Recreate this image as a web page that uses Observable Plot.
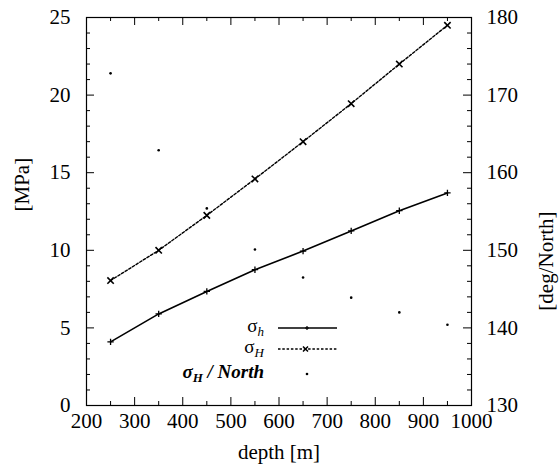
<!DOCTYPE html>
<html>
<head>
<meta charset="utf-8">
<script src="https://cdn.jsdelivr.net/npm/d3@7"></script>
<script src="https://cdn.jsdelivr.net/npm/@observablehq/plot@0.6"></script>
<style>
  body { margin: 0; background: white; }
  #wrap { position: relative; width: 559px; height: 472px; color: black; }
  .lg { position: absolute; font-size: 19px; line-height: 14px; height: 14px; text-align: right; width: 200px; white-space: nowrap; }
  .lg sub { font-size: 13px; font-style: italic; vertical-align: -4px; line-height: 0; }
  .sample { position: absolute; overflow: visible; }
</style>
</head>
<body>
<div id="wrap" style="font-family:'Liberation Serif', serif"></div>
<script>
// ---- data ----
const depth = [250, 350, 450, 550, 650, 750, 850, 950];
const sigmaHmin = [4.1, 5.9, 7.35, 8.75, 9.95, 11.25, 12.55, 13.7];     // σh [MPa]
const sigmaHmax = [8.05, 10.0, 12.25, 14.6, 17.0, 19.45, 22.0, 24.5];   // σH [MPa]
const azimuth = [172.8, 162.9, 155.4, 150.1, 146.5, 143.9, 142.0, 140.4]; // σH / North [deg]

const xMajor = [200, 300, 400, 500, 600, 700, 800, 900, 1000];
const xMinor = [250, 350, 450, 550, 650, 750, 850, 950];
const yMajor = [0, 5, 10, 15, 20, 25];
const y2Major = [130, 140, 150, 160, 170, 180];

// right axis (deg) maps onto the left scale: deg = 130 + 2 * MPa
const degToY = d => (d - 130) / 2;
const yToDeg = v => 130 + 2 * v;

const rows = depth.map((d, i) => ({depth: d, sh: sigmaHmin[i], sH: sigmaHmax[i], north: degToY(azimuth[i])}));
const yMinor = d3.range(0, 26).filter(v => v % 5 !== 0);
const y2MajorY = y2Major.map(degToY);

const W = 559, H = 472, mL = 86, mR = 88, mT = 17, mB = 67;
const fw = W - mL - mR, fh = H - mT - mB;
const FONT = "Liberation Serif";

// inward ticks drawn as short rules hugging the frame
const tk = (len) => ({
  bottom: {insetTop: fh - len},
  top: {insetBottom: fh - len},
  left: {insetRight: fw - len},
  right: {insetLeft: fw - len}
});
const xTicks = (data, side, len) => Plot.ruleX(data, {x: d => d, stroke: "black", strokeWidth: 1, ...tk(len)[side]});
const yTicks = (data, side, len) => Plot.ruleY(data, {y: d => d, stroke: "black", strokeWidth: 1, ...tk(len)[side]});

const chart = Plot.plot({
  width: W,
  height: H,
  marginLeft: mL,
  marginRight: mR,
  marginTop: mT,
  marginBottom: mB,
  x: {domain: [200, 1000]},
  y: {domain: [0, 25]},
  style: {fontSize: "21px", background: "white", color: "black", overflow: "visible"},
  marks: [
    xTicks(xMajor, "bottom", 8),
    xTicks(xMinor, "bottom", 4),
    xTicks(xMajor, "top", 8),
    xTicks(xMinor, "top", 4),
    yTicks(yMajor, "left", 8),
    yTicks(yMinor, "left", 4),
    yTicks(y2MajorY, "right", 8),
    yTicks(yMinor, "right", 4),
    Plot.frame({stroke: "black", strokeWidth: 1.2}),
    // tick labels
    Plot.axisX({ticks: xMajor, tickSize: 0, tickPadding: 8, label: null, tickFormat: d => String(d)}),
    Plot.axisY({ticks: yMajor, tickSize: 0, tickPadding: 16, label: null, tickFormat: d => String(d)}),
    Plot.axisY({anchor: "right", ticks: y2MajorY, tickSize: 0, tickPadding: 15, label: null, tickFormat: v => String(yToDeg(v))}),
    // axis titles
    Plot.text(["[MPa]"], {frameAnchor: "left", dx: -64, rotate: -90, fontSize: 21}),
    Plot.text(["[deg/North]"], {frameAnchor: "right", dx: 75, rotate: -90, fontSize: 21}),
    Plot.text(["depth [m]"], {frameAnchor: "bottom", dy: 53, fontSize: 21}),
    // series
    Plot.line(rows, {x: "depth", y: "sh", stroke: "black", strokeWidth: 1.6}),
    Plot.dot(rows, {x: "depth", y: "sh", symbol: "plus", r: 2.2, stroke: "black", strokeWidth: 1.3}),
    Plot.line(rows, {x: "depth", y: "sH", stroke: "black", strokeWidth: 1.4, strokeDasharray: "2.5,1.8"}),
    Plot.dot(rows, {x: "depth", y: "sH", symbol: "times", r: 3, stroke: "black", strokeWidth: 1.6}),
    Plot.dot(rows, {x: "depth", y: "north", r: 1.3, fill: "black", stroke: "none"})
  ]
});
chart.setAttribute("font-family", FONT);
chart.style.fontFamily = "'Liberation Serif', serif";

const wrap = document.getElementById("wrap");
wrap.appendChild(chart);

// legend (inside the plot area)
const legend = [
  {html: "σ<sub>h</sub>", y: 327, kind: "solid"},
  {html: "σ<sub>H</sub>", y: 348, kind: "dotted"},
  {html: "<b><i>σ<sub>H</sub> / North</i></b>", y: 373, kind: "point"}
];
legend.forEach(e => {
  const t = document.createElement("div");
  t.className = "lg";
  t.style.fontFamily = "'Liberation Serif', serif";
  t.innerHTML = e.html;
  t.style.left = (264 - 200) + "px";
  t.style.top = (e.y - 8) + "px";
  wrap.appendChild(t);
  const s = document.createElementNS("http://www.w3.org/2000/svg", "svg");
  s.setAttribute("class", "sample");
  s.setAttribute("width", 60);
  s.setAttribute("height", 10);
  s.style.left = "278px";
  s.style.top = (e.y - 4) + "px";
  if (e.kind === "solid") {
    s.innerHTML = '<line x1="0" x2="59" y1="5" y2="5" stroke="black" stroke-width="1.6"/><path d="M27,5H31M29,3V7" stroke="black" stroke-width="1.2"/>';
  } else if (e.kind === "dotted") {
    s.innerHTML = '<line x1="0" x2="59" y1="5" y2="5" stroke="black" stroke-width="1.4" stroke-dasharray="2.5,1.8"/><path d="M25,2.5L30,7.5M30,2.5L25,7.5" stroke="black" stroke-width="1.5"/>';
  } else {
    s.innerHTML = '<circle cx="29" cy="5" r="1.3" fill="black"/>';
  }
  wrap.appendChild(s);
});
</script>
</body>
</html>
